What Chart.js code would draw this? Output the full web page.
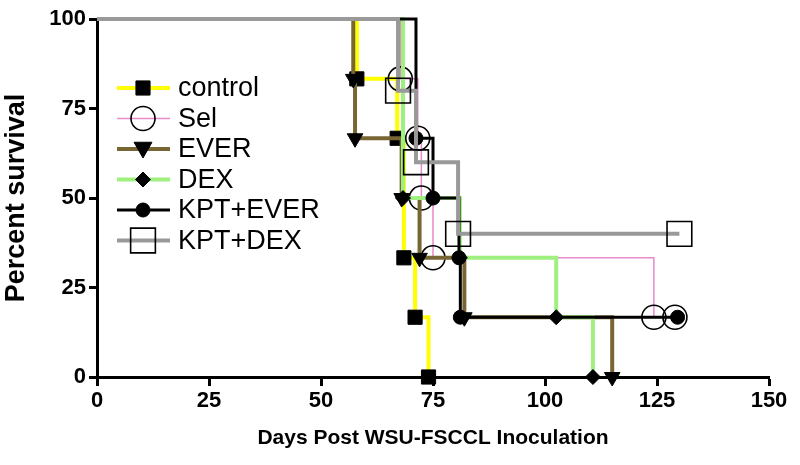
<!DOCTYPE html>
<html>
<head>
<meta charset="utf-8">
<script src="https://cdn.jsdelivr.net/npm/chart.js@4.4.0/dist/chart.umd.min.js"></script>
<style>
  html, body { margin: 0; padding: 0; background: #fff; }
  #wrap { width: 800px; height: 465px; }
</style>
</head>
<body>
<div id="wrap"><canvas id="c"></canvas></div>
<script>
// Kaplan-Meier curves (days, percent survival)
const controlDays = [0, 58, 67, 68.5, 71, 74]
const controlSurv = [100, 83.3, 66.7, 33.3, 16.7, 0]

const selDays = [0, 67.7, 71.6, 72.4, 75, 124.3, 129]
const selSurv = [100, 83.3, 66.7, 50, 33.3, 16.7, 16.7]

const everDays = [0, 57.2, 57.6, 68, 72, 82, 115]
const everSurv = [100, 83.3, 66.7, 50, 33.3, 16.7, 0]

const dexDays = [0, 68.3, 81, 102.5, 110.7]
const dexSurv = [100, 50, 33.3, 16.7, 0]

const kptEverDays = [0, 71.2, 75, 80.8, 81.1, 129.6]
const kptEverSurv = [100, 66.7, 50, 33.3, 16.7, 16.7]

const kptDexDays = [0, 67.2, 71.2, 80.6, 130]
const kptDexSurv = [100, 80, 60, 40, 40]

const xTicks = [0, 25, 50, 75, 100, 125, 150]
const yTicks = [0, 25, 50, 75, 100]

const FONT = '"Liberation Sans", Arial, sans-serif'

function series(label, days, surv, color, width, marker, size, fill, order) {
  return {
    label: label,
    data: days.map((d, i) => ({ x: d, y: surv[i] })),
    borderColor: color,
    borderWidth: width,
    stepped: true,
    fill: false,
    clip: false,
    order: order,
    pointStyle: marker,
    pointRotation: marker === 'triangle' ? 180 : 0,
    pointRadius: c => c.dataIndex === 0 ? 0 : size,
    pointHoverRadius: c => c.dataIndex === 0 ? 0 : size,
    pointBackgroundColor: fill,
    pointBorderColor: '#000',
    pointBorderWidth: fill === '#000' ? 1 : 1.6,
    markerSize: size
  }
}

const datasets = [
  series('control', controlDays, controlSurv, '#ffff00', 4, 'rect', 10, '#000', 6),
  series('Sel', selDays, selSurv, '#e88ac8', 1.5, 'circle', 12, 'rgba(0,0,0,0)', 5),
  series('EVER', everDays, everSurv, '#776633', 4, 'triangle', 9, '#000', 4),
  series('DEX', dexDays, dexSurv, '#a0f080', 4, 'rectRot', 7.5, '#000', 3),
  series('KPT+EVER', kptEverDays, kptEverSurv, '#000000', 3, 'circle', 7, '#000', 2),
  series('KPT+DEX', kptDexDays, kptDexSurv, '#999999', 4, 'rect', 17.5, 'rgba(0,0,0,0)', 1)
]

function marker(ctx, style, r, x, y, filled) {
  ctx.beginPath()
  if (style === 'rect') {
    const s = r * Math.SQRT1_2
    ctx.rect(x - s, y - s, 2 * s, 2 * s)
  } else if (style === 'rectRot') {
    ctx.moveTo(x, y - r); ctx.lineTo(x + r, y); ctx.lineTo(x, y + r); ctx.lineTo(x - r, y); ctx.closePath()
  } else if (style === 'triangle') {
    const h = r * 1.5, w = r * Math.sqrt(3) / 2 * 1.15
    ctx.moveTo(x - w, y - h / 2); ctx.lineTo(x + w, y - h / 2); ctx.lineTo(x, y + h / 1.5); ctx.closePath()
  } else {
    ctx.arc(x, y, r, 0, Math.PI * 2)
  }
  if (filled) ctx.fill()
  ctx.stroke()
}

// legend sits inside the plot area, top left
const insideLegend = {
  id: 'insideLegend',
  afterDatasetsDraw(chart) {
    const ctx = chart.ctx
    chart.data.datasets.forEach((ds, i) => {
      const y = 88 + i * 30.5
      ctx.save()
      ctx.strokeStyle = ds.borderColor
      ctx.lineWidth = ds.borderWidth
      ctx.beginPath()
      ctx.moveTo(117, y)
      ctx.lineTo(170, y)
      ctx.stroke()
      ctx.fillStyle = '#000'
      ctx.strokeStyle = '#000'
      ctx.lineWidth = ds.pointBorderWidth
      marker(ctx, ds.pointStyle, ds.markerSize, 143, y, ds.pointBackgroundColor === '#000')
      ctx.font = '27px ' + FONT
      ctx.textBaseline = 'middle'
      ctx.fillText(ds.label, 178, y + 1)
      ctx.restore()
    })
  }
}

new Chart(document.getElementById('c'), {
  type: 'line',
  data: { datasets: datasets },
  options: {
    responsive: true,
    maintainAspectRatio: false,
    animation: false,
    layout: { padding: { top: 17, right: 31, left: 0, bottom: 0 } },
    plugins: {
      legend: { display: false },
      tooltip: { enabled: false }
    },
    scales: {
      x: {
        type: 'linear',
        min: 0,
        max: 150,
        afterBuildTicks: s => { s.ticks = xTicks.map(v => ({ value: v })) },
        afterFit: s => { s.height = 88 },
        ticks: { color: '#000', font: { family: FONT, size: 22, weight: 'bold' }, padding: 2, maxRotation: 0 },
        grid: { drawOnChartArea: false, drawTicks: true, tickLength: 9, tickWidth: 3, tickColor: '#000' },
        border: { color: '#000', width: 3 },
        title: {
          display: true,
          text: 'Days Post WSU-FSCCL Inoculation',
          color: '#000',
          font: { family: FONT, size: 21, weight: 'bold' },
          padding: { top: 4, bottom: 14 }
        }
      },
      y: {
        min: 0,
        max: 100,
        afterBuildTicks: s => { s.ticks = yTicks.map(v => ({ value: v })) },
        afterFit: s => { s.width = 97 },
        ticks: { color: '#000', font: { family: FONT, size: 22, weight: 'bold' }, padding: 3 },
        grid: { drawOnChartArea: false, drawTicks: true, tickLength: 8, tickWidth: 3, tickColor: '#000' },
        border: { color: '#000', width: 3 },
        title: {
          display: true,
          text: 'Percent survival',
          color: '#000',
          font: { family: FONT, size: 27, weight: 'bold' },
          padding: { top: 0, bottom: 2 }
        }
      }
    }
  },
  plugins: [insideLegend]
})
</script>
</body>
</html>
